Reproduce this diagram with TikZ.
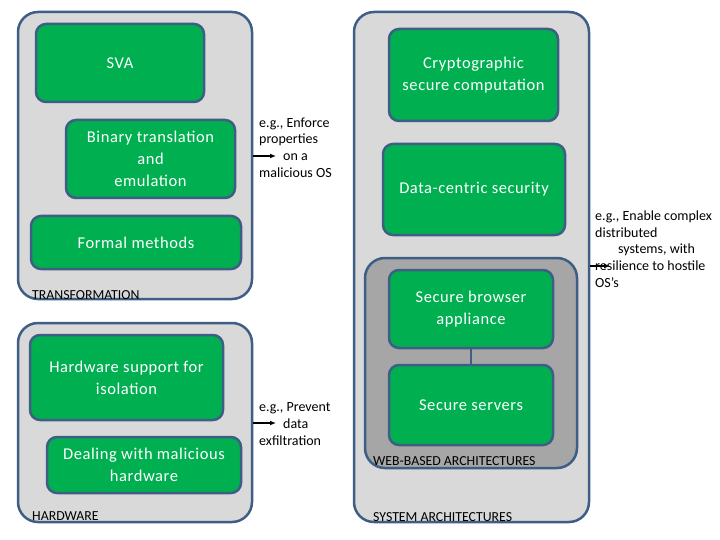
\documentclass[tikz,border=0pt]{standalone}
\usepackage{fontspec}
\setmainfont{Carlito}
\usetikzlibrary{arrows.meta}
\definecolor{gfill}{HTML}{00B050}
\definecolor{bline}{HTML}{3F5E86}
\definecolor{lgray}{HTML}{D9D9D9}
\definecolor{dgray}{HTML}{A6A6A6}
\tikzset{
  cont/.style={draw=bline, line width=2.5pt, fill=lgray, rounded corners=20pt, inner sep=0pt},
  webcont/.style={draw=bline, line width=2.5pt, fill=dgray, rounded corners=20pt, inner sep=0pt},
  gbox/.style={draw=bline, line width=2.5pt, fill=gfill, rounded corners=10pt, text=white,
    align=center, font=\fontsize{16.5}{22}\selectfont\addfontfeature{LetterSpace=3.5}, inner sep=0pt},
  clabel/.style={anchor=base west, inner sep=0pt, font=\fontsize{13.8}{16}\selectfont},
  note/.style={anchor=north west, inner sep=0pt, align=left, font=\fontsize{14}{16.7}\selectfont},
  arr/.style={-{Latex[length=6pt,width=5pt]}, line width=1.5pt, black},
  link/.style={draw=bline, line width=2.5pt}
}
\begin{document}
\begin{tikzpicture}[x=1pt,y=-1pt]
\useasboundingbox[fill=white] (0,0) rectangle (720,540);
% containers
\node[cont, minimum width=234pt, minimum height=287pt] (trans) at (135,155.5) {};
\node[cont, minimum width=234pt, minimum height=199pt] (hw) at (135,422.5) {};
\node[cont, minimum width=235pt, minimum height=510pt] (sys) at (471.5,267) {};
\node[webcont, minimum width=212pt, minimum height=210pt] (web) at (471,363) {};
% green boxes
\node[gbox, minimum width=168pt, minimum height=78pt] (sva) at (120,63) {SVA};
\node[gbox, minimum width=169pt, minimum height=78pt] (bin) at (150.5,159) {Binary translation\\and\\emulation};
\node[gbox, minimum width=210pt, minimum height=53pt] (formal) at (136,242.5) {Formal methods};
\node[gbox, minimum width=193pt, minimum height=85pt] (hwsup) at (126.5,377.5) {Hardware support for\\isolation};
\node[gbox, minimum width=194pt, minimum height=56pt] (deal) at (144,465) {Dealing with malicious\\hardware};
\node[gbox, minimum width=169pt, minimum height=92pt] (crypto) at (473.5,75) {Cryptographic\\secure computation};
\node[gbox, minimum width=182pt, minimum height=91pt] (data) at (474,189.5) {Data-centric security};
\node[gbox, minimum width=164pt, minimum height=78pt] (browser) at (471,309) {Secure browser\\appliance};
\node[gbox, minimum width=164pt, minimum height=80pt] (servers) at (471,405) {Secure servers};
\draw[link] (browser.south) -- (servers.north);
% container labels
\node[clabel] (ltrans) at (32,299) {TRANSFORMATION};
\node[clabel] (lhw) at (32,520) {HARDWARE};
\node[clabel] (lweb) at (373,465) {WEB-BASED ARCHITECTURES};
\node[clabel] (lsys) at (373,521) {SYSTEM ARCHITECTURES};
% arrows
\coordinate (a1) at (276,156);
\coordinate (a2) at (276,423);
\coordinate (a3) at (610,266);
\draw[arr] (trans.east |- a1) -- (a1);
\draw[arr] (hw.east |- a2) -- (a2);
\draw[arr] (sys.east |- a3) -- (a3);
% notes
\node[note] (n1) at (259,117.5) {e.g., Enforce\\properties\\\hspace*{24pt}on a\\malicious OS};
\node[note] (n2) at (259,402.5) {e.g., Prevent\\\hspace*{24pt}data\\exfiltration};
\node[note] (n3) at (595,210.5) {e.g., Enable complex\\distributed\\\hspace*{23pt}systems, with\\resilience to hostile\\OS’s};
\end{tikzpicture}
\end{document}
